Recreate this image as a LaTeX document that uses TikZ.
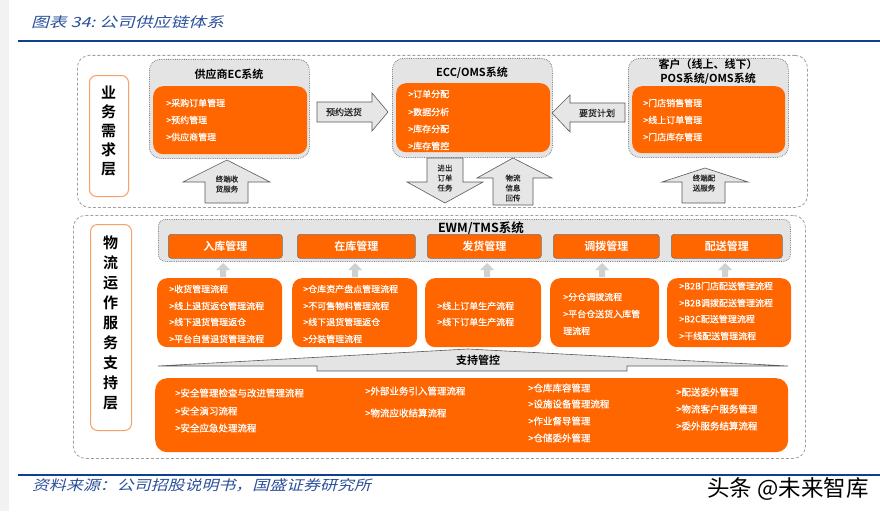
\documentclass[tikz,border=0pt]{standalone}
\usepackage{fontspec}
\setmainfont{Noto Sans CJK SC}[BoldFont={Noto Sans CJK SC Bold}]
\newfontfamily\slantcjk{Noto Sans CJK SC}[FakeSlant=0.22]
\newfontfamily\medfont{Noto Sans CJK SC}[FakeBold=0.6]
\newfontfamily\wmfont{Noto Sans CJK SC}
\definecolor{org}{HTML}{FF6600}
\definecolor{boxgray}{HTML}{E4E4E4}
\definecolor{arrgray}{HTML}{E6E6E6}
\definecolor{arrline}{HTML}{595959}
\definecolor{dashgray}{HTML}{A0A0A0}
\definecolor{lblorange}{HTML}{F7A167}
\definecolor{titleblue}{HTML}{2A4F9B}
\definecolor{lineblue}{HTML}{0F3F93}
\definecolor{smallarr}{HTML}{D0D0D0}
\tikzset{
  outerbox/.style={draw=dashgray, dash pattern=on 3pt off 2pt, line width=0.8pt, rounded corners=12pt, inner sep=0, anchor=north west},
  sysbox/.style={draw=gray, densely dotted, fill=boxgray, rounded corners=11pt, line width=0.8pt, inner sep=0, anchor=north west},
  orgbox/.style={fill=org, rounded corners=10pt, inner sep=0, anchor=north west},
  lblbox/.style={draw=lblorange, fill=white, rounded corners=7pt, line width=1pt, inner sep=0, anchor=north west},
  lbltext/.style={font=\bfseries\fontsize{15}{19}\selectfont, align=center, inner sep=0},
  systitle/.style={font=\bfseries\fontsize{11}{14}\selectfont, align=center, inner sep=0},
  hdrbox/.style={fill=org, draw=black!55, line width=0.6pt, rounded corners=3pt, text=white, font=\bfseries\fontsize{11}{13}\selectfont, inner sep=0, anchor=north west},
  item/.style={text=white, font=\medfont\fontsize{9}{11}\selectfont, anchor=west, inner sep=0},
  sitem/.style={text=white, font=\medfont\fontsize{9.5}{11}\selectfont, anchor=west, inner sep=0},
  blockarrow/.style={fill=arrgray, draw=arrline, line width=0.6pt, line join=miter},
  arrtxt/.style={font=\medfont\fontsize{7.5}{10}\selectfont, align=center, inner sep=0, text=black!85},
  arrtxtbig/.style={font=\medfont\fontsize{9}{11}\selectfont, inner sep=0, text=black!85},
}
\begin{document}
\begin{tikzpicture}[x=1pt,y=-1pt]
\useasboundingbox (0,0) rectangle (880,511);
\fill[black!5] (0,0) rectangle (9,511);

% header
\node[anchor=west, text=titleblue, font=\slantcjk\fontsize{14}{16}\selectfont, inner sep=0] (title) at (31,22) {\scalebox{1.27}[1]{图表 34:\ 公司供应链体系}};
\draw[lineblue, line width=2pt] (18,41) -- (880,41);

% ===== top zone =====
\node[outerbox, minimum width=730pt, minimum height=152pt] (topzone) at (77,55) {};
\node[lblbox, minimum width=39pt, minimum height=121pt] (lbl1) at (89,75) {};
\node[lbltext] (lbl1t) at (108.5,131) {业\\务\\需\\求\\层};

% supplier
\node[sysbox, minimum width=160pt, minimum height=99pt] (sup) at (149,59) {};
\node[systitle] (supt) at (229,74) {供应商EC系统};
\node[orgbox, minimum width=154pt, minimum height=68pt] (supo) at (153,86) {};
\node[item] (sup1) at (166,103) {>采购订单管理};
\node[item] (sup2) at (166,120) {>预约管理};
\node[item] (sup3) at (166,137) {>供应商管理};

% ECC/OMS
\node[sysbox, minimum width=160pt, minimum height=99pt] (ecc) at (392,58) {};
\node[systitle] (ecct) at (472,73) {ECC/OMS系统};
\node[orgbox, minimum width=154pt, minimum height=69pt] (ecco) at (396,83) {};
\node[item] (ecc1) at (408,94) {>订单分配};
\node[item] (ecc2) at (408,112) {>数据分析};
\node[item] (ecc3) at (408,129) {>库存分配};
\node[item] (ecc4) at (408,146) {>库存管控};

% customer
\node[sysbox, minimum width=160pt, minimum height=99pt] (cus) at (628,58) {};
\node[systitle] (cust) at (708,72) {客户（线上、线下）\\POS系统/OMS系统};
\node[orgbox, minimum width=153pt, minimum height=67pt] (cuso) at (632,86) {};
\node[item] (cus1) at (643,103) {>门店销售管理};
\node[item] (cus2) at (643,120) {>线上订单管理};
\node[item] (cus3) at (643,137) {>门店库存管理};

% block arrows top
\path[blockarrow] (317,102) -- (372,102) -- (372,93) -- (388,112) -- (372,131) -- (372,122) -- (317,122) -- cycle;
\node[arrtxtbig] (a1t) at (344,112) {预约送货};
\path[blockarrow] (625,103) -- (570,103) -- (570,95) -- (552,113) -- (570,132) -- (570,122) -- (625,122) -- cycle;
\node[arrtxtbig] (a2t) at (597,113) {要货计划};
\path[blockarrow] (205,203) -- (205,182) -- (183,182) -- (227,160) -- (270,182) -- (248,182) -- (248,203) -- cycle;
\node[arrtxt] (a3t) at (227,184) {终端收\\货服务};
\path[blockarrow] (427,158) -- (463,158) -- (463,182) -- (483,182) -- (445,203) -- (407,182) -- (427,182) -- cycle;
\node[arrtxt] (a4t) at (445,178) {进出\\订单\\任务};
\path[blockarrow] (493,205) -- (493,178) -- (477,178) -- (513,158) -- (552,178) -- (533,178) -- (533,205) -- cycle;
\node[arrtxt] (a5t) at (513,188) {物流\\信息\\回传};
\path[blockarrow] (682,203) -- (682,182) -- (662,182) -- (705,168) -- (748,182) -- (725,182) -- (725,203) -- cycle;
\node[arrtxt] (a6t) at (704,183) {终端配\\送服务};

% ===== bottom zone =====
\node[outerbox, minimum width=732pt, minimum height=243pt] (botzone) at (73,215) {};
\node[lblbox, minimum width=41pt, minimum height=206pt] (lbl2) at (90,224) {};
\node[lbltext, font=\bfseries\fontsize{15}{20}\selectfont] (lbl2t) at (110.5,323) {物\\流\\运\\作\\服\\务\\支\\持\\层};

\node[sysbox, minimum width=632pt, minimum height=42pt, rounded corners=7pt] (ewm) at (158,219) {};
\node[font=\bfseries\fontsize{12.5}{14}\selectfont, inner sep=0] (ewmt) at (481,228) {EWM/TMS系统};

\node[hdrbox, minimum width=114pt, minimum height=24pt] (h1) at (168,234) {入库管理};
\node[hdrbox, minimum width=118pt, minimum height=24pt] (h2) at (297,234) {在库管理};
\node[hdrbox, minimum width=114pt, minimum height=24pt] (h3) at (427,234) {发货管理};
\node[hdrbox, minimum width=106pt, minimum height=24pt] (h4) at (553,234) {调拨管理};
\node[hdrbox, minimum width=111pt, minimum height=24pt] (h5) at (671,234) {配送管理};

\foreach \cx in {223,355,487,602,725}{
  \fill[smallarr] (\cx-7,270) -- (\cx,263) -- (\cx+7,270) -- (\cx+3,270) -- (\cx+3,277) -- (\cx-3,277) -- (\cx-3,270) -- cycle;
}

\node[orgbox, minimum width=125pt, minimum height=69pt] (l1) at (157,278) {};
\node[orgbox, minimum width=125pt, minimum height=69pt] (l2) at (292,278) {};
\node[orgbox, minimum width=116pt, minimum height=69pt] (l3) at (425,278) {};
\node[orgbox, minimum width=109pt, minimum height=69pt] (l4) at (550,278) {};
\node[orgbox, minimum width=124pt, minimum height=69pt] (l5) at (667,278) {};

\node[item] (l1a) at (169,289) {>收货管理流程};
\node[item] (l1b) at (169,306) {>线上退货返仓管理流程};
\node[item] (l1c) at (169,322) {>线下退货管理返仓};
\node[item] (l1d) at (169,339) {>平台自营退货管理流程};

\node[item] (l2a) at (303,289) {>仓库资产盘点管理流程};
\node[item] (l2b) at (303,306) {>不可售物料管理流程};
\node[item] (l2c) at (303,322) {>线下退货管理返仓};
\node[item] (l2d) at (303,339) {>分装管理流程};

\node[item] (l3a) at (437,306) {>线上订单生产流程};
\node[item] (l3b) at (437,322) {>线下订单生产流程};

\node[item] (l4a) at (563,297) {>分仓调拨流程};
\node[item] (l4b) at (563,314) {>平台仓送货入库管};
\node[item] (l4c) at (563,331) {理流程};

\node[item] (l5a) at (679,286) {>B2B门店配送管理流程};
\node[item] (l5b) at (679,303) {>B2B调拨配送管理流程};
\node[item] (l5c) at (679,319) {>B2C配送管理流程};
\node[item] (l5d) at (679,336) {>干线配送管理流程};

% support wedge
\path[blockarrow, fill=boxgray] (158,366) -- (468,349) -- (788,366) -- (627,366) -- (627,371) -- (317,371) -- (317,366) -- cycle;
\node[font=\bfseries\fontsize{11}{13}\selectfont, inner sep=0] (supp) at (478,360) {支持管控};

\node[orgbox, minimum width=633pt, minimum height=74pt, rounded corners=12pt] (sbox) at (155,378) {};
\node[sitem] (s1a) at (175,393) {>安全管理检查与改进管理流程};
\node[sitem] (s1b) at (175,411) {>安全演习流程};
\node[sitem] (s1c) at (175,428) {>安全应急处理流程};
\node[sitem] (s2a) at (365,391) {>外部业务引入管理流程};
\node[sitem] (s2b) at (365,413) {>物流应收结算流程};
\node[sitem] (s3a) at (528,388) {>仓库库容管理};
\node[sitem] (s3b) at (528,404) {>设施设备管理流程};
\node[sitem] (s3c) at (528,421) {>作业督导管理};
\node[sitem] (s3d) at (528,438) {>仓储委外管理};
\node[sitem] (s4a) at (676,392) {>配送委外管理};
\node[sitem] (s4b) at (676,409) {>物流客户服务管理};
\node[sitem] (s4c) at (676,426) {>委外服务结算流程};

% footer
\draw[lineblue, line width=2pt] (18,475) -- (880,475);
\node[anchor=west, text=titleblue, font=\slantcjk\fontsize{14}{16}\selectfont, inner sep=0] (src) at (32,485) {\scalebox{1.21}[1]{资料来源：公司招股说明书，国盛证券研究所}};
\node[anchor=west, font=\wmfont\fontsize{22.5}{24}\selectfont, inner sep=0] (wm) at (707,489) {头条 @未来智库};
\end{tikzpicture}
\end{document}
